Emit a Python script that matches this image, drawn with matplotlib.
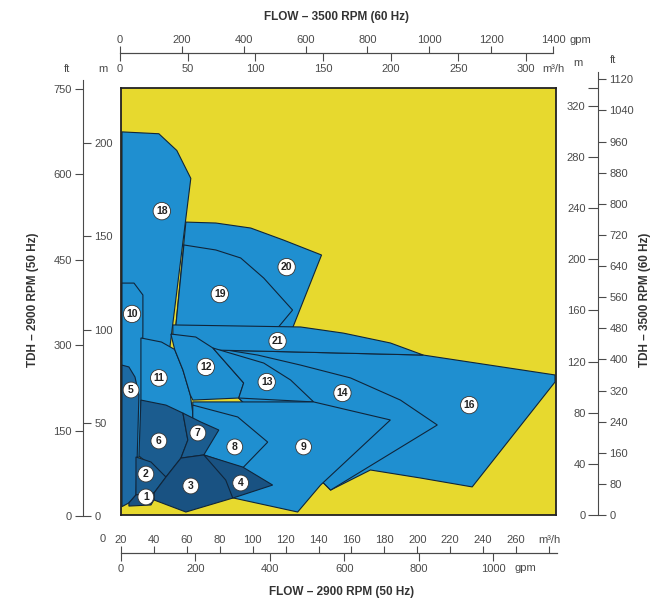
import matplotlib
matplotlib.use("Agg")
import matplotlib.pyplot as plt
from matplotlib.patches import Polygon

plt.rcParams["font.family"] = ["Liberation Sans Narrow", "Liberation Sans", "DejaVu Sans"]

W, H = 658, 600  # output size in px

YELLOW = "#e7d92e"
BLUE = "#1f8fd0"
DARK1 = "#1d6aa3"
DARK2 = "#1b5c8f"
DARK3 = "#195282"

# pump ranges: (flow m3/h as printed on the 50 Hz scale, head m at 50 Hz)
r18 = [(20, 206), (42.4, 205), (53.3, 196), (61.8, 181), (48.5, 86), (20, 86)]
r20 = [(58.8, 157.5), (77, 157), (98.2, 154.3), (118.2, 147.8), (141.2, 139.8),
       (123.6, 100.5), (52.7, 101.6)]
r19 = [(57.6, 145.2), (77, 142.5), (92.1, 138.2), (106.1, 127.4), (123.6, 110.2),
       (114.5, 100.5), (52.7, 101.6)]
r10 = [(20, 124.7), (27.3, 124.7), (32.7, 118.3), (32.7, 99.5), (31.5, 31.2), (20, 31.2)]
r16 = [(75.8, 88.7), (128.5, 87.6), (203, 86), (283, 75.3), (283, 71.5), (232.7, 15.1),
       (201.2, 19.9), (170.9, 24.2), (146.7, 13.4), (90.9, 62.9)]
r14 = [(75.8, 89.8), (102.4, 86), (128.5, 80.6), (158.8, 73.7), (189.1, 61.8),
       (211.5, 48.4), (146.7, 13.4), (90.9, 62.9)]
r21 = [(50.9, 102.2), (128.5, 101.1), (154.5, 97.8), (183, 92.5), (203, 86),
       (128.5, 87.6), (75.8, 88.7), (50.9, 95.7)]
r11 = [(31.5, 95.2), (44, 93), (52, 89), (57, 78), (61.5, 64.5), (63.6, 51.1), (31.5, 51.1)]
r12 = [(49.7, 97.3), (64.8, 95.7), (75.2, 89.8), (93.9, 71), (90.9, 62.9), (63, 61.8),
       (61.5, 64.5), (57, 78), (52, 89)]
r13 = [(75.2, 89.8), (106.1, 81.7), (122.4, 72.6), (136.4, 60.8), (90.9, 62.9), (93.9, 71)]
r9 = [(63, 60.8), (136.4, 60.8), (183, 51.1), (140.6, 16.1), (126.7, 1.6), (87.9, 9.1),
      (63, 24.2)]
r8 = [(63, 59.1), (90.3, 52.7), (108.5, 39.2), (93.3, 25.3), (69.7, 32.3), (63, 40.3)]
r5 = [(20, 80.6), (24.2, 79.6), (27.9, 74.2), (30.3, 64.5), (29.7, 45.7), (29, 24.2),
      (28.5, 10.8), (24.2, 6.5), (20, 4.5)]
r6 = [(31.5, 61.8), (46.7, 59.1), (57, 54.8), (60, 40.3), (55.8, 30.6), (46.7, 20.4),
      (30.3, 31.7)]
r7 = [(57, 54.8), (67.9, 50), (78.8, 45.7), (69.7, 32.3), (55.8, 30.6), (60, 40.3)]
r2 = [(28.5, 31.2), (37.6, 28.5), (46.7, 20.4), (39.4, 11.8), (28.5, 10.8)]
r3 = [(46.7, 20.4), (55.8, 30.6), (69.7, 32.3), (86.1, 24.2), (92.1, 13.4), (87.3, 9.1),
      (58.8, 1.6), (39.4, 8.1), (39.4, 11.8)]
r4 = [(69.7, 32.3), (93.3, 25.8), (111.5, 16.1), (87.3, 9.1), (83, 18.8)]
r1 = [(24.2, 6.5), (28.5, 10.8), (39.4, 11.8), (39.4, 8.1), (37.6, 5.4), (24.2, 4.8)]

# back to front
draw_order = [(r18, BLUE), (r20, BLUE), (r19, BLUE), (r10, BLUE), (r16, BLUE), (r14, BLUE),
              (r21, BLUE), (r11, BLUE), (r12, BLUE), (r13, BLUE), (r9, BLUE), (r8, BLUE),
              (r5, DARK1), (r6, DARK2), (r7, DARK2), (r2, DARK2), (r3, DARK3), (r4, DARK3),
              (r1, DARK3)]

label_text = ["1", "2", "3", "4", "5", "6", "7", "8", "9", "10", "11", "12", "13", "14",
              "16", "18", "19", "20", "21"]
label_q = [34.5, 34.5, 61.8, 92.1, 25.5, 42.4, 66.1, 88.5, 130.3, 26.1, 42.4, 70.9, 107.9,
           153.9, 230.9, 44.2, 79.4, 120, 114.5]
label_h = [9.7, 22, 15.6, 17.2, 67.2, 39.8, 44.1, 36.6, 36.6, 108.1, 73.7, 79.6, 71.5,
           65.6, 59.1, 163.4, 118.8, 133.3, 93.5]

# scales
flow60_m3h = [0, 50, 100, 150, 200, 250, 300]
flow60_gpm = [0, 200, 400, 600, 800, 1000, 1200, 1400]
flow50_m3h = [20, 40, 60, 80, 100, 120, 140, 160, 180, 200, 220, 240, 260]
flow50_gpm = [0, 200, 400, 600, 800, 1000]
head50_ft = [0, 150, 300, 450, 600, 750]
head50_m = [0, 50, 100, 150, 200]
head60_m = [0, 40, 80, 120, 160, 200, 240, 280, 320]
head60_ft = [0, 80, 160, 240, 320, 400, 480, 560, 640, 720, 800, 880, 960, 1040, 1120]

TXT = "#4a4a4a"
TICK_FS = 8


def box(x0, y0, x1, y1):
    """pixel box -> figure fraction rect"""
    return [x0 / W, 1 - y1 / H, (x1 - x0) / W, (y1 - y0) / H]


def bare(rect):
    a = fig.add_axes(rect)
    a.patch.set_visible(False)
    for s in a.spines.values():
        s.set_visible(False)
    a.set_xticks([])
    a.set_yticks([])
    return a


fig = plt.figure(figsize=(W / 100, H / 100), dpi=100)
fig.patch.set_facecolor("white")

ax = fig.add_axes(box(121, 88, 556, 515))
ax.set_facecolor(YELLOW)
ax.set_xlim(19.4, 283.6)
ax.set_ylim(0, 229.6)
ax.set_xticks([])
ax.set_yticks([])
for s in ax.spines.values():
    s.set_linewidth(1.3)
    s.set_color("#222")

for pts, col in draw_order:
    ax.add_patch(Polygon(pts, closed=True, fc=col, ec="#10253a", lw=0.8))

for t, q, h in zip(label_text, label_q, label_h):
    ax.text(q, h, t, ha="center", va="center", fontsize=7.5, fontweight="bold",
            color="#222",
            bbox=dict(boxstyle="circle,pad=0.28", fc="white", ec="#333", lw=0.6))

# top scale (60 Hz)
tg = bare(box(120, 53, 553, 53.2))
tg.set_xlim(0, 1400)
tg.spines["top"].set_visible(True)
tg.spines["top"].set_color(TXT)
tg.set_xticks(flow60_gpm)
tg.tick_params(axis="x", top=True, bottom=False, labeltop=True, labelbottom=False,
               direction="out", length=5, pad=1, labelsize=TICK_FS, colors=TXT)

tm = bare(box(120, 53, 553, 53.2))
tm.set_xlim(0, 320)
tm.spines["bottom"].set_visible(True)
tm.spines["bottom"].set_color(TXT)
tm.set_xticks(flow60_m3h)
tm.tick_params(axis="x", direction="out", length=6, pad=2, labelsize=TICK_FS, colors=TXT)

fig.text(580 / W, 1 - 40 / H, "gpm", ha="center", va="center", fontsize=TICK_FS, color=TXT)
fig.text(553 / W, 1 - 69 / H, "m³/h", ha="center", va="center", fontsize=TICK_FS, color=TXT)
fig.text(336 / W, 1 - 17 / H, "FLOW – 3500 RPM (60 Hz)", ha="center", va="center",
         fontsize=8.5, fontweight="bold", color="#333")

# bottom scale (50 Hz)
bm = bare(box(121, 553, 557, 553.2))
bm.set_xlim(20, 284.9)
bm.spines["top"].set_visible(True)
bm.spines["top"].set_color(TXT)
bm.set_xticks(flow50_m3h + [280])
bm.set_xticklabels([str(v) for v in flow50_m3h] + ["m³/h"])
bm.tick_params(axis="x", top=True, bottom=False, labeltop=True, labelbottom=False,
               direction="out", length=5, pad=1, labelsize=TICK_FS, colors=TXT)

bg = bare(box(121, 553, 557, 553.2))
bg.set_xlim(0, 1172)
bg.spines["bottom"].set_visible(True)
bg.spines["bottom"].set_color(TXT)
bg.set_xticks(flow50_gpm)
bg.tick_params(axis="x", direction="out", length=6, pad=2, labelsize=TICK_FS, colors=TXT)

fig.text(103 / W, 1 - 539 / H, "0", ha="center", va="center", fontsize=TICK_FS, color=TXT)
fig.text(525 / W, 1 - 568 / H, "gpm", ha="center", va="center", fontsize=TICK_FS, color=TXT)
fig.text(342 / W, 1 - 592 / H, "FLOW – 2900 RPM (50 Hz)", ha="center", va="center",
         fontsize=8.5, fontweight="bold", color="#333")

# left scale (50 Hz head)
lf = bare(box(83, 80, 83.2, 516))
lf.set_ylim(0, 765.9)
lf.spines["left"].set_visible(True)
lf.spines["left"].set_color(TXT)
lf.set_yticks(head50_ft)
lf.tick_params(axis="y", direction="out", length=6, pad=2, labelsize=TICK_FS, colors=TXT)

lm = bare(box(83, 80, 83.2, 516))
lm.set_ylim(0, 233.8)
lm.set_yticks(head50_m)
lm.tick_params(axis="y", left=False, right=True, labelleft=False, labelright=True,
               direction="out", length=6, pad=2, labelsize=TICK_FS, colors=TXT)

fig.text(67 / W, 1 - 69 / H, "ft", ha="center", va="center", fontsize=TICK_FS, color=TXT)
fig.text(103 / W, 1 - 69 / H, "m", ha="center", va="center", fontsize=TICK_FS, color=TXT)
fig.text(33 / W, 1 - 300 / H, "TDH – 2900 RPM (50 Hz)", ha="center", va="center",
         rotation=90, fontsize=8.5, fontweight="bold", color="#333")

# right scale (60 Hz head)
rm = bare(box(598, 72, 598.2, 515))
rm.set_ylim(0, 346.6)
rm.set_yticks(head60_m + [334])
rm.set_yticklabels([str(v) for v in head60_m] + [""])
rm.tick_params(axis="y", direction="out", length=7, pad=2, labelsize=TICK_FS, colors=TXT)

rf = bare(box(598, 72, 598.2, 515))
rf.set_ylim(0, 1138.8)
rf.spines["right"].set_visible(True)
rf.spines["right"].set_color(TXT)
rf.set_yticks(head60_ft)
rf.tick_params(axis="y", left=False, right=True, labelleft=False, labelright=True,
               direction="out", length=6, pad=2, labelsize=TICK_FS, colors=TXT)

fig.text(578 / W, 1 - 63 / H, "m", ha="center", va="center", fontsize=TICK_FS, color=TXT)
fig.text(613 / W, 1 - 60 / H, "ft", ha="center", va="center", fontsize=TICK_FS, color=TXT)
fig.text(645 / W, 1 - 300 / H, "TDH – 3500 RPM (60 Hz)", ha="center", va="center",
         rotation=90, fontsize=8.5, fontweight="bold", color="#333")

fig.savefig("out.png", dpi=100)
